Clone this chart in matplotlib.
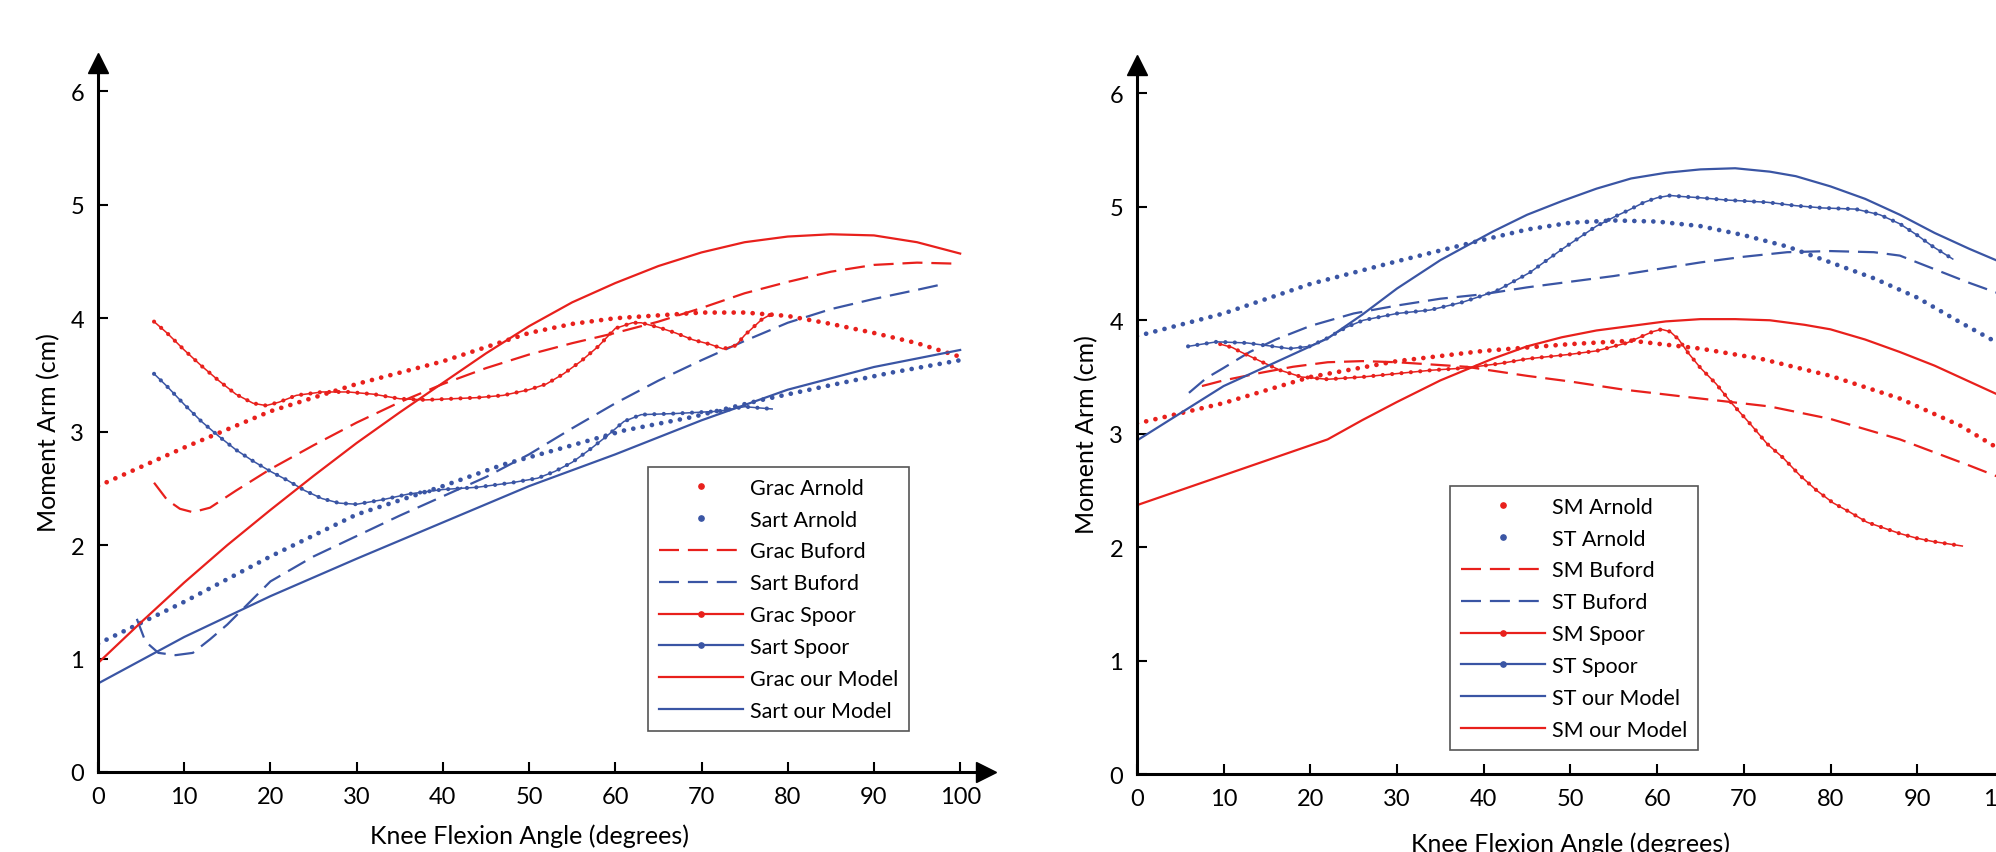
import matplotlib
matplotlib.use("Agg")
import matplotlib.pyplot as plt
from matplotlib.lines import Line2D

plt.rcParams['font.family'] = ['Lato', 'DejaVu Sans']

RED = '#e8201c'
BLUE = '#3a55a4'

# ---- left panel: gracilis / sartorius ----
grac_arnold_x = [0, 10, 20, 30, 40, 50, 55, 60, 70, 75, 80, 85, 90, 95, 100]
grac_arnold_y = [2.52, 2.86, 3.18, 3.42, 3.62, 3.87, 3.95, 4.0, 4.05, 4.05, 4.02, 3.95, 3.87, 3.78, 3.66]
sart_arnold_x = [0, 10, 20, 30, 40, 47, 55, 61, 69, 77, 85, 92, 100]
sart_arnold_y = [1.13, 1.5, 1.9, 2.27, 2.52, 2.71, 2.88, 3.01, 3.13, 3.28, 3.41, 3.52, 3.63]
grac_buford_x = [6.5, 8, 9.5, 11, 13, 16, 20, 25, 30, 35, 40, 45, 50, 55, 60, 65, 70, 75, 80, 85, 90, 95, 100]
grac_buford_y = [2.55, 2.4, 2.32, 2.29, 2.33, 2.48, 2.67, 2.88, 3.08, 3.26, 3.42, 3.56, 3.68, 3.78, 3.87,
                 3.97, 4.09, 4.22, 4.32, 4.41, 4.47, 4.49, 4.48]
sart_buford_x = [4.5, 5.5, 7, 9, 11, 13, 15, 20, 25, 30, 35, 40, 45, 50, 55, 60, 65, 70, 75, 80, 85, 90, 95, 98]
sart_buford_y = [1.35, 1.15, 1.05, 1.03, 1.05, 1.17, 1.3, 1.68, 1.9, 2.08, 2.26, 2.43, 2.6, 2.8, 3.03, 3.25,
                 3.45, 3.63, 3.8, 3.96, 4.08, 4.17, 4.25, 4.3]
grac_spoor_x = [6.5, 8, 10, 12, 14, 16, 18, 19.5, 21, 23, 26, 29, 32, 35, 38, 41, 44, 47, 50, 52, 54, 56, 58,
                60, 62, 63, 65, 67, 69, 71, 72.5, 74, 75, 76, 77, 78.2]
grac_spoor_y = [3.97, 3.87, 3.72, 3.58, 3.45, 3.33, 3.25, 3.23, 3.26, 3.32, 3.35, 3.35, 3.33, 3.29, 3.28, 3.29,
                3.30, 3.32, 3.37, 3.42, 3.51, 3.62, 3.75, 3.91, 3.96, 3.96, 3.92, 3.87, 3.81, 3.77, 3.73,
                3.76, 3.85, 3.92, 3.99, 4.04]
sart_spoor_x = [6.5, 8, 10, 12, 14, 16, 18, 20, 22, 24, 26, 28, 30, 33, 36, 40, 44, 48, 51, 53, 55, 57, 59,
                61, 62, 63, 67, 72, 75, 78.2]
sart_spoor_y = [3.51, 3.40, 3.24, 3.09, 2.96, 2.84, 2.74, 2.65, 2.57, 2.48, 2.41, 2.37, 2.36, 2.40, 2.45,
                2.49, 2.51, 2.55, 2.59, 2.65, 2.73, 2.84, 2.96, 3.09, 3.12, 3.15, 3.16, 3.18, 3.22, 3.20]
grac_model_x = [0, 5, 10, 15, 20, 25, 30, 35, 40, 45, 50, 55, 60, 65, 70, 75, 80, 85, 90, 95, 100]
grac_model_y = [0.96, 1.32, 1.67, 2.0, 2.31, 2.61, 2.9, 3.17, 3.43, 3.69, 3.93, 4.14, 4.31, 4.46, 4.58,
                4.67, 4.72, 4.74, 4.73, 4.67, 4.57]
sart_model_x = [0, 10, 20, 30, 40, 50, 60, 70, 80, 90, 100]
sart_model_y = [0.78, 1.19, 1.55, 1.88, 2.2, 2.52, 2.8, 3.1, 3.37, 3.57, 3.72]

# ---- right panel: semimembranosus / semitendinosus ----
sm_arnold_x = [0, 10, 20, 30, 40, 50, 57, 65, 72, 80, 88, 95, 100]
sm_arnold_y = [3.09, 3.27, 3.5, 3.64, 3.73, 3.79, 3.82, 3.75, 3.66, 3.51, 3.31, 3.07, 2.84]
st_arnold_x = [0, 10, 20, 30, 40, 45, 50, 55, 60, 65, 70, 75, 80, 85, 90, 95, 100]
st_arnold_y = [3.86, 4.06, 4.32, 4.52, 4.71, 4.8, 4.86, 4.88, 4.87, 4.83, 4.75, 4.65, 4.51, 4.37, 4.2, 3.98, 3.77]
sm_buford_x = [7.5, 10, 14.5, 18, 22, 26, 30, 34, 38, 45, 50, 56, 65, 73, 80, 88, 96, 100]
sm_buford_y = [3.42, 3.47, 3.54, 3.59, 3.63, 3.64, 3.63, 3.61, 3.59, 3.51, 3.46, 3.39, 3.31, 3.24, 3.13,
               2.95, 2.72, 2.6]
st_buford_x = [6, 8, 10, 13, 16, 20, 25, 30, 35, 40, 45, 50, 55, 60, 65, 70, 75, 80, 85, 88, 92, 96, 100]
st_buford_y = [3.36, 3.49, 3.58, 3.72, 3.83, 3.95, 4.06, 4.13, 4.19, 4.23, 4.29, 4.34, 4.39, 4.45, 4.51,
               4.56, 4.6, 4.61, 4.6, 4.57, 4.45, 4.33, 4.22]
sm_spoor_x = [9.6, 11, 12, 14.5, 16.5, 19, 22, 26, 30, 34, 38, 42, 45, 50, 53, 56.5, 58, 59.5, 60.5, 61.5,
              62.5, 63.5, 65, 66.8, 68.7, 70.7, 72.7, 74.5, 76.5, 78.4, 80.3, 82.2, 84.2, 86.1, 88, 89.9,
              91.8, 93.5, 95.2]
sm_spoor_y = [3.79, 3.76, 3.72, 3.63, 3.56, 3.5, 3.48, 3.5, 3.53, 3.56, 3.58, 3.62, 3.66, 3.7, 3.73, 3.80,
              3.85, 3.90, 3.92, 3.90, 3.83, 3.72, 3.58, 3.44, 3.26, 3.09, 2.91, 2.79, 2.63, 2.5, 2.39,
              2.31, 2.22, 2.17, 2.12, 2.08, 2.05, 2.03, 2.01]
st_spoor_x = [5.9, 9.2, 12.7, 15.7, 17.6, 19.9, 21.9, 24.2, 26.1, 30, 33.8, 37.6, 41.5, 45.3, 49.1, 53, 55.3,
              56.7, 58.5, 60, 61.5, 63, 65, 68, 72.7, 76, 79.1, 82.9, 85.7, 88, 90, 91.8, 94.1]
st_spoor_y = [3.77, 3.81, 3.80, 3.77, 3.75, 3.77, 3.84, 3.94, 4.0, 4.06, 4.09, 4.16, 4.26, 4.42, 4.63, 4.83,
              4.92, 4.97, 5.04, 5.08, 5.1, 5.09, 5.08, 5.06, 5.04, 5.01, 4.99, 4.98, 4.93, 4.85, 4.75,
              4.65, 4.54]
st_model_x = [0, 5, 10, 16, 22, 26, 30, 35, 41, 45, 49, 53, 57, 61, 65, 69, 73, 76, 80, 84, 88, 92, 96, 100]
st_model_y = [2.94, 3.18, 3.42, 3.63, 3.84, 4.05, 4.28, 4.53, 4.78, 4.93, 5.05, 5.16, 5.25, 5.3, 5.33, 5.34,
              5.31, 5.27, 5.18, 5.07, 4.93, 4.77, 4.63, 4.5]
sm_model_x = [0, 11, 22, 26, 30, 35, 41, 45, 49, 53, 57, 61, 65, 69, 73, 77, 80, 84, 88, 92, 96, 100]
sm_model_y = [2.37, 2.66, 2.95, 3.12, 3.28, 3.47, 3.66, 3.77, 3.85, 3.91, 3.95, 3.99, 4.01, 4.01, 4.0, 3.96,
              3.92, 3.83, 3.72, 3.6, 3.46, 3.32]

x_ticks = list(range(0, 101, 10))
y_ticks = list(range(0, 7))

DASH = (0, (9, 4))


def arnold(ax, x, y, c):
    # dotted look of the Arnold curves
    ax.plot(x, y, color=c, lw=3.4, linestyle=(0, (0.01, 2.0)), dash_capstyle='round')


def buford(ax, x, y, c):
    ax.plot(x, y, color=c, lw=1.6, linestyle=DASH)


def spoor(ax, x, y, c):
    ax.plot(x, y, color=c, lw=1.1)
    ax.plot(x, y, color=c, lw=3.0, linestyle=(0, (0.01, 2.25)), dash_capstyle='round')


def model(ax, x, y, c):
    ax.plot(x, y, color=c, lw=1.6)


def style_axes(ax, xlab_y):
    ax.set_xlim(0, 103)
    ax.set_ylim(0, 6.25)
    for s in ['top', 'right']:
        ax.spines[s].set_visible(False)
    for s in ['left', 'bottom']:
        ax.spines[s].set_linewidth(2.2)
    ax.set_xticks(x_ticks)
    ax.set_yticks(y_ticks)
    ax.tick_params(direction='in', length=7, width=1.5, labelsize=17)
    ax.tick_params(axis='x', pad=10)
    ax.tick_params(axis='y', pad=10)
    # arrow heads on the axes
    ax.plot(1, 0, '>k', ms=14, transform=ax.transAxes, clip_on=False)
    ax.plot(0, 1, '^k', ms=14, transform=ax.transAxes, clip_on=False)
    ax.set_xlabel('Knee Flexion Angle (degrees)', fontsize=18)
    ax.set_ylabel('Moment Arm (cm)', fontsize=18)
    ax.xaxis.set_label_coords(50 / 103, xlab_y)
    ax.xaxis.label.set_verticalalignment('center')
    ax.yaxis.set_label_coords(-0.056, 3 / 6.25)
    ax.yaxis.label.set_verticalalignment('center')


def handles(c1, c2):
    # legend entries: arnold, arnold, buford, buford, spoor, spoor
    h = []
    for c in (c1, c2):
        h.append(Line2D([], [], color=c, marker='o', ms=3.8, ls='none'))
    for c in (c1, c2):
        h.append(Line2D([], [], color=c, lw=1.6, ls=DASH))
    for c in (c1, c2):
        h.append(Line2D([], [], color=c, lw=1.6, marker='o', ms=3.8))
    return h


def add_legend(ax, h, labels, anchor):
    leg = ax.legend(h, labels, loc='upper left', bbox_to_anchor=anchor, bbox_transform=fig.transFigure,
                    fancybox=False, edgecolor='#555555', framealpha=1, fontsize=15.5, handlelength=3.9,
                    handletextpad=0.35, labelspacing=0.55, borderpad=0.5, numpoints=1, borderaxespad=0)
    leg.get_frame().set_linewidth(1.2)


fig = plt.figure(figsize=(19.96, 8.53), dpi=100)

ax1 = fig.add_axes([0.0491, 0.0938, 0.4449, 0.8312])
arnold(ax1, grac_arnold_x, grac_arnold_y, RED)
arnold(ax1, sart_arnold_x, sart_arnold_y, BLUE)
buford(ax1, grac_buford_x, grac_buford_y, RED)
buford(ax1, sart_buford_x, sart_buford_y, BLUE)
spoor(ax1, grac_spoor_x, grac_spoor_y, RED)
spoor(ax1, sart_spoor_x, sart_spoor_y, BLUE)
model(ax1, grac_model_x, grac_model_y, RED)
model(ax1, sart_model_x, sart_model_y, BLUE)
style_axes(ax1, -0.089)
h1 = handles(RED, BLUE) + [Line2D([], [], color=RED, lw=1.6), Line2D([], [], color=BLUE, lw=1.6)]
add_legend(ax1, h1, ['Grac Arnold', 'Sart Arnold', 'Grac Buford', 'Sart Buford', 'Grac Spoor', 'Sart Spoor',
                     'Grac our Model', 'Sart our Model'], (0.3247, 0.4513))

# right panel runs off the right edge of the figure, as in the original
ax2 = fig.add_axes([0.5696, 0.0914, 0.4474, 0.8312])
arnold(ax2, sm_arnold_x, sm_arnold_y, RED)
arnold(ax2, st_arnold_x, st_arnold_y, BLUE)
buford(ax2, sm_buford_x, sm_buford_y, RED)
buford(ax2, st_buford_x, st_buford_y, BLUE)
spoor(ax2, sm_spoor_x, sm_spoor_y, RED)
spoor(ax2, st_spoor_x, st_spoor_y, BLUE)
model(ax2, st_model_x, st_model_y, BLUE)
model(ax2, sm_model_x, sm_model_y, RED)
style_axes(ax2, -0.097)
h2 = handles(RED, BLUE) + [Line2D([], [], color=BLUE, lw=1.6), Line2D([], [], color=RED, lw=1.6)]
add_legend(ax2, h2, ['SM Arnold', 'ST Arnold', 'SM Buford', 'ST Buford', 'SM Spoor', 'ST Spoor',
                     'ST our Model', 'SM our Model'], (0.7265, 0.4291))

fig.savefig('out.png', dpi=100)
